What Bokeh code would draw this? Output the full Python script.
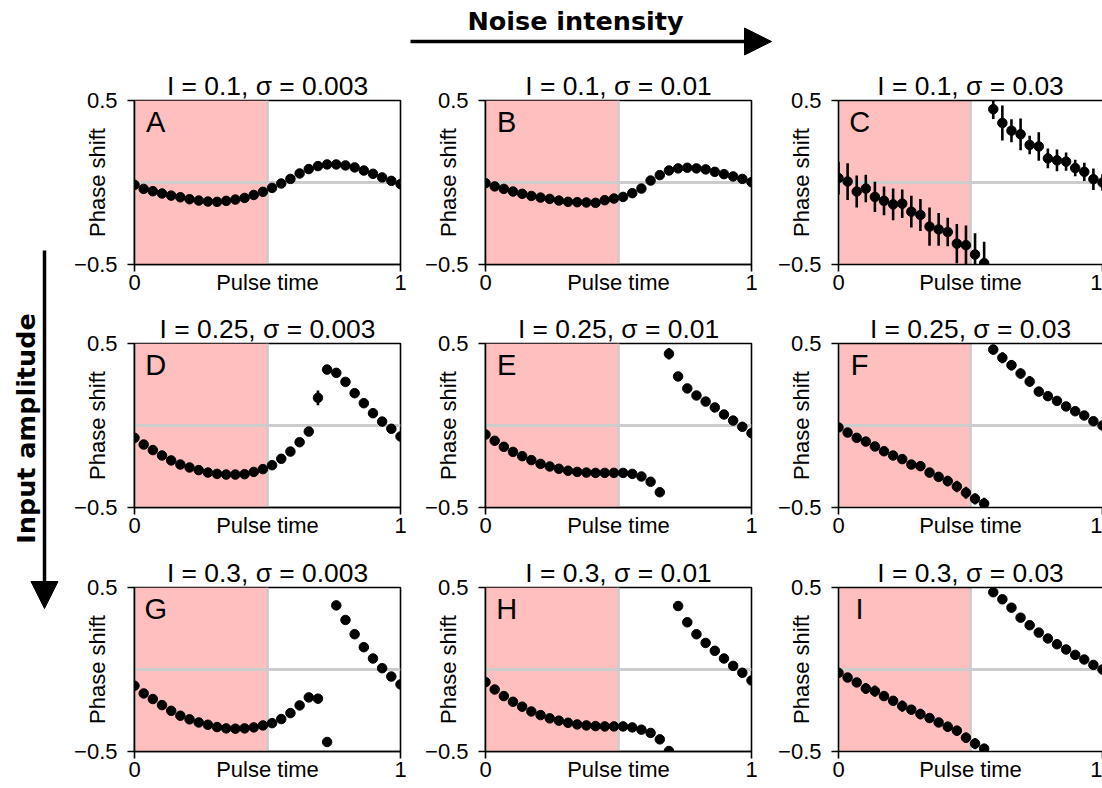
import math
from bokeh.plotting import figure
from bokeh.layouts import column, row
from bokeh.models import (Range1d, FixedTicker, LinearAxis, BoxAnnotation, Span,
                          Arrow, NormalHead, Label, ColumnDataSource)
from bokeh.embed import file_html
from bokeh.resources import INLINE

# ---------------- data ----------------
pulse_time = [0.0, 0.0345, 0.069, 0.1034, 0.1379, 0.1724, 0.2069, 0.2414, 0.2759, 0.3103,
              0.3448, 0.3793, 0.4138, 0.4483, 0.4828, 0.5172, 0.5517, 0.5862, 0.6207, 0.6552,
              0.6897, 0.7241, 0.7586, 0.7931, 0.8276, 0.8621, 0.8966, 0.931, 0.9655, 1.0]

pulse_window = [0.0, 0.5]

titles = ["I = 0.1, σ = 0.003", "I = 0.1, σ = 0.01", "I = 0.1, σ = 0.03",
          "I = 0.25, σ = 0.003", "I = 0.25, σ = 0.01", "I = 0.25, σ = 0.03",
          "I = 0.3, σ = 0.003", "I = 0.3, σ = 0.01", "I = 0.3, σ = 0.03"]
letters = ["A", "B", "C", "D", "E", "F", "G", "H", "I"]

phase_A = [-0.014, -0.039, -0.053, -0.067, -0.080, -0.090, -0.102, -0.110, -0.116, -0.118,
           -0.112, -0.104, -0.094, -0.076, -0.057, -0.033, -0.006, 0.022, 0.055, 0.082,
           0.100, 0.110, 0.110, 0.104, 0.092, 0.073, 0.053, 0.031, 0.010, -0.010]
err_A = [0.004, 0.004, 0.004, 0.004, 0.004, 0.004, 0.004, 0.004, 0.004, 0.004,
         0.004, 0.004, 0.004, 0.004, 0.004, 0.004, 0.004, 0.004, 0.004, 0.004,
         0.004, 0.004, 0.004, 0.004, 0.004, 0.004, 0.004, 0.004, 0.004, 0.004]

phase_B = [-0.004, -0.024, -0.039, -0.055, -0.069, -0.082, -0.092, -0.100, -0.110, -0.118,
           -0.120, -0.122, -0.124, -0.108, -0.098, -0.088, -0.065, -0.037, 0.012, 0.045,
           0.073, 0.086, 0.090, 0.086, 0.080, 0.065, 0.051, 0.037, 0.022, 0.002]
err_B = [0.008, 0.008, 0.008, 0.008, 0.008, 0.008, 0.008, 0.008, 0.008, 0.008,
         0.008, 0.008, 0.008, 0.008, 0.008, 0.008, 0.008, 0.008, 0.010, 0.008,
         0.008, 0.008, 0.008, 0.008, 0.008, 0.008, 0.008, 0.008, 0.008, 0.008]

phase_C = [0.027, 0.006, -0.055, -0.037, -0.088, -0.112, -0.133, -0.129, -0.178, -0.198,
           -0.269, -0.286, -0.302, -0.373, -0.382, -0.439, -0.492, 0.447, 0.363, 0.316,
           0.294, 0.229, 0.220, 0.147, 0.135, 0.127, 0.088, 0.065, 0.020, 0.000]
err_C = [0.100, 0.112, 0.097, 0.084, 0.092, 0.087, 0.097, 0.087, 0.097, 0.097,
         0.117, 0.100, 0.087, 0.120, 0.120, 0.130, 0.130, 0.060, 0.107, 0.070,
         0.097, 0.056, 0.087, 0.060, 0.066, 0.056, 0.050, 0.056, 0.066, 0.050]

phase_D = [-0.075, -0.116, -0.150, -0.183, -0.213, -0.238, -0.256, -0.272, -0.287, -0.295,
           -0.299, -0.299, -0.297, -0.283, -0.266, -0.242, -0.203, -0.159, -0.102, -0.037,
           0.169, 0.341, 0.321, 0.266, 0.197, 0.136, 0.075, 0.024, -0.020, -0.067]
err_D = [0.006, 0.006, 0.006, 0.006, 0.006, 0.006, 0.006, 0.006, 0.006, 0.006,
         0.006, 0.006, 0.006, 0.006, 0.006, 0.006, 0.006, 0.008, 0.008, 0.010,
         0.045, 0.010, 0.008, 0.006, 0.006, 0.006, 0.006, 0.006, 0.006, 0.006]

phase_E = [-0.055, -0.093, -0.130, -0.161, -0.187, -0.211, -0.234, -0.250, -0.264, -0.276,
           -0.283, -0.287, -0.289, -0.289, -0.289, -0.289, -0.295, -0.311, -0.343, -0.407,
           0.437, 0.299, 0.226, 0.183, 0.146, 0.110, 0.067, 0.030, -0.008, -0.047]
err_E = [0.008, 0.008, 0.008, 0.008, 0.008, 0.008, 0.008, 0.008, 0.008, 0.008,
         0.008, 0.008, 0.008, 0.008, 0.008, 0.008, 0.008, 0.010, 0.010, 0.012,
         0.035, 0.012, 0.010, 0.008, 0.008, 0.008, 0.008, 0.008, 0.008, 0.008]

phase_F = [-0.012, -0.043, -0.075, -0.098, -0.128, -0.157, -0.183, -0.205, -0.238, -0.248,
           -0.287, -0.313, -0.339, -0.372, -0.410, -0.447, -0.476, 0.463, 0.413, 0.368,
           0.317, 0.268, 0.207, 0.179, 0.150, 0.116, 0.087, 0.061, 0.026, 0.000]
err_F = [0.020, 0.022, 0.025, 0.022, 0.026, 0.024, 0.025, 0.026, 0.028, 0.030,
         0.028, 0.030, 0.032, 0.035, 0.036, 0.034, 0.035, 0.030, 0.034, 0.032,
         0.030, 0.034, 0.028, 0.026, 0.025, 0.024, 0.024, 0.022, 0.022, 0.020]

phase_G = [-0.099, -0.146, -0.180, -0.217, -0.252, -0.282, -0.304, -0.323, -0.337, -0.351,
           -0.359, -0.361, -0.359, -0.353, -0.341, -0.327, -0.302, -0.266, -0.219, -0.170,
           -0.178, -0.442, 0.391, 0.302, 0.215, 0.136, 0.067, 0.008, -0.043, -0.091]
err_G = [0.005, 0.005, 0.005, 0.005, 0.005, 0.005, 0.005, 0.005, 0.005, 0.005,
         0.005, 0.005, 0.005, 0.005, 0.005, 0.005, 0.005, 0.006, 0.006, 0.008,
         0.010, 0.010, 0.008, 0.006, 0.005, 0.005, 0.005, 0.005, 0.005, 0.005]

phase_H = [-0.077, -0.122, -0.162, -0.197, -0.227, -0.256, -0.278, -0.298, -0.312, -0.325,
           -0.335, -0.341, -0.345, -0.347, -0.347, -0.347, -0.353, -0.367, -0.387, -0.426,
           -0.497, 0.387, 0.288, 0.215, 0.162, 0.114, 0.067, 0.022, -0.020, -0.067]
err_H = [0.006, 0.006, 0.006, 0.006, 0.006, 0.006, 0.006, 0.006, 0.006, 0.006,
         0.006, 0.006, 0.006, 0.006, 0.006, 0.006, 0.006, 0.008, 0.008, 0.010,
         0.012, 0.010, 0.008, 0.006, 0.006, 0.006, 0.006, 0.006, 0.006, 0.006]

phase_I = [-0.020, -0.049, -0.079, -0.116, -0.132, -0.162, -0.191, -0.223, -0.245, -0.272,
           -0.296, -0.323, -0.349, -0.373, -0.416, -0.452, -0.483, 0.471, 0.428, 0.377,
           0.316, 0.270, 0.225, 0.189, 0.154, 0.122, 0.089, 0.061, 0.028, 0.000]
err_I = [0.020, 0.024, 0.026, 0.034, 0.034, 0.026, 0.028, 0.034, 0.028, 0.032,
         0.026, 0.028, 0.030, 0.030, 0.032, 0.034, 0.030, 0.020, 0.022, 0.022,
         0.022, 0.022, 0.024, 0.022, 0.022, 0.020, 0.022, 0.022, 0.022, 0.020]

phases = [phase_A, phase_B, phase_C, phase_D, phase_E, phase_F, phase_G, phase_H, phase_I]
errors = [err_A, err_B, err_C, err_D, err_E, err_F, err_G, err_H, err_I]

# ---------------- layout constants ----------------
FONT = "Liberation Sans"
TOP_H = 60
LEFT_W = 64
COL_W = [346, 352, 340]
COL_BL = [70, 75, 76]
COL_FW = [266, 266, 264]
ROW_H = [243, 244, 241]
ROW_BT = [40, 40, 40]
FRAME_H = 164
PINK = "#ffbfbf"
GRAY = "#cccccc"


def style_axis(ax):
    ax.axis_line_color = "black"
    ax.axis_line_width = 1.6
    ax.major_tick_line_color = "black"
    ax.major_tick_line_width = 1.6
    ax.major_tick_out = 7
    ax.major_tick_in = 0
    ax.minor_tick_line_color = None
    ax.major_label_text_font = FONT
    ax.major_label_text_font_size = "22px"
    ax.major_label_text_color = "black"
    ax.axis_label_text_font = FONT
    ax.axis_label_text_font_size = "22px"
    ax.axis_label_text_font_style = "normal"
    ax.axis_label_text_color = "black"


def make_panel(i):
    r, c = divmod(i, 3)
    bl = COL_BL[c]
    br = COL_W[c] - bl - COL_FW[c]
    bt = ROW_BT[r]
    bb = ROW_H[r] - bt - FRAME_H
    p = figure(width=COL_W[c], height=ROW_H[r],
               x_range=Range1d(0, 1), y_range=Range1d(-0.5, 0.5),
               min_border_left=bl, min_border_right=br,
               min_border_top=bt, min_border_bottom=bb,
               toolbar_location=None, tools="", output_backend="svg",
               background_fill_color="white", border_fill_color="white",
               title=titles[i])
    p.title.text_font = FONT
    p.title.text_font_size = "26.4px"
    p.title.text_font_style = "normal"
    p.title.text_color = "black"
    p.title.align = "center"
    p.title.standoff = 0
    p.grid.visible = False

    xa = p.xaxis[0]
    ya = p.yaxis[0]
    style_axis(xa)
    style_axis(ya)

    xa.ticker = FixedTicker(ticks=[0, 1])
    xa.major_label_standoff = 3
    xa.axis_label = "Pulse time"
    xa.axis_label_standoff = -23

    ya.ticker = FixedTicker(ticks=[-0.5, 0.5])
    ya.major_label_overrides = {-0.5: "−0.5", 0.5: "0.5"}
    ya.major_label_standoff = 10
    ya.axis_label = "Phase shift"
    ya.axis_label_standoff = -39

    if c == 2:
        p.outline_line_color = None
        top_ax = LinearAxis(ticker=FixedTicker(ticks=[]), major_tick_out=0, major_tick_in=0,
                            minor_tick_out=0, minor_tick_in=0, major_label_standoff=0,
                            major_label_text_font_size="0px",
                            axis_line_color="black", axis_line_width=1.6)
        p.add_layout(top_ax, "above")
    else:
        p.outline_line_color = "black"
        p.outline_line_width = 1.6
        p.outline_line_alpha = 1.0

    p.add_layout(BoxAnnotation(left=pulse_window[0], right=pulse_window[1],
                               fill_color=PINK, fill_alpha=1.0, line_color=None,
                               level="underlay"))
    p.add_layout(Span(location=0, dimension="width", line_color=GRAY, line_width=2.8,
                      level="underlay"))
    p.add_layout(Span(location=pulse_window[1], dimension="height", line_color=GRAY,
                      line_width=2.8, level="underlay"))

    ys = phases[i]
    es = errors[i]
    src = ColumnDataSource(dict(x=pulse_time, y=ys,
                                lo=[y - e for y, e in zip(ys, es)],
                                hi=[y + e for y, e in zip(ys, es)]))
    p.segment(x0="x", y0="lo", x1="x", y1="hi", source=src, line_color="black",
              line_width=2.6)
    p.scatter(x="x", y="y", source=src, size=9.5, marker="circle", fill_color="black",
              line_color="black")

    p.add_layout(Label(x=0.08, y=0.37, text=letters[i], text_align="center",
                       text_baseline="alphabetic", text_font=FONT,
                       text_font_size="29px", text_color="black"))
    return p


panels = [make_panel(i) for i in range(9)]

TOTAL_W = LEFT_W + sum(COL_W)
GRID_H = sum(ROW_H)

# top arrow (data units = page pixels, y measured upward from the strip bottom)
top = figure(width=TOTAL_W, height=TOP_H,
             x_range=Range1d(0, TOTAL_W), y_range=Range1d(0, TOP_H),
             x_axis_type=None, y_axis_type=None, min_border=0,
             toolbar_location=None, tools="", output_backend="svg",
             outline_line_color=None, background_fill_color="white",
             border_fill_color="white")
top.grid.visible = False
top.add_layout(Arrow(end=NormalHead(size=27, fill_color="black", line_color="black"),
                     x_start=410, y_start=19, x_end=771, y_end=19,
                     line_width=3.5, line_color="black"))
top.add_layout(Label(x=575, y=39.5, text="Noise intensity", text_align="center",
                     text_baseline="alphabetic", text_font="DejaVu Sans",
                     text_font_style="bold", text_font_size="25.5px", text_color="black"))

# left arrow
left = figure(width=LEFT_W, height=GRID_H,
              x_range=Range1d(0, LEFT_W), y_range=Range1d(0, GRID_H),
              x_axis_type=None, y_axis_type=None, min_border=0,
              toolbar_location=None, tools="", output_backend="svg",
              outline_line_color=None, background_fill_color="white",
              border_fill_color="white")
left.grid.visible = False
left.add_layout(Arrow(end=NormalHead(size=27, fill_color="black", line_color="black"),
                      x_start=44, y_start=538, x_end=44, y_end=180,
                      line_width=3.5, line_color="black"))
left.add_layout(Label(x=25.5, y=360, text="Input amplitude", angle=math.pi / 2,
                      text_align="center", text_baseline="alphabetic",
                      text_font="DejaVu Sans", text_font_style="bold",
                      text_font_size="25.5px", text_color="black"))

grid = column(row(*panels[0:3]), row(*panels[3:6]), row(*panels[6:9]))
layout = column(top, row(left, grid))

open("out.html", "w").write(file_html(layout, INLINE))
